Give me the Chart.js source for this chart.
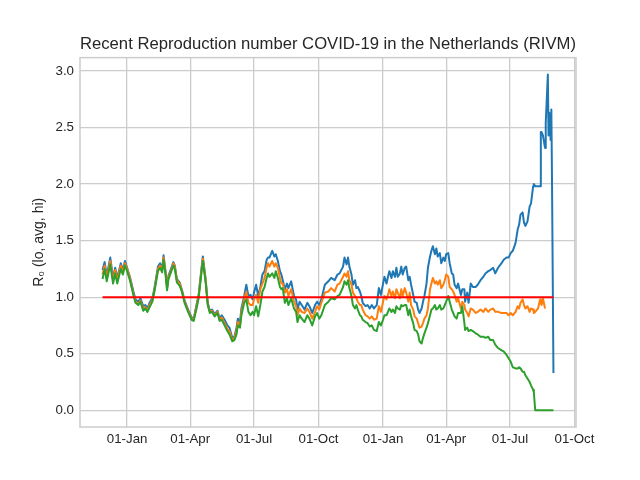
<!DOCTYPE html>
<html>
<head>
<meta charset="utf-8">
<script src="https://cdn.jsdelivr.net/npm/chart.js@4.4.1/dist/chart.umd.min.js"></script>
<style>
  html, body { margin: 0; padding: 0; background: #fff; }
</style>
</head>
<body>
<canvas id="chart" width="640" height="480"></canvas>
<script>
// days since the first estimate (27 Nov 2020)
const startDate = "2020-11-27";
const dayOffsets = [
  0, 3, 6, 11, 15, 18, 21, 26, 29, 32, 35, 39, 44, 47, 51, 54, 58, 61, 64, 67,
  71, 74, 79, 82, 85, 87, 90, 92, 94, 97, 101, 103, 106, 110, 113, 117, 122, 127, 130, 134,
  137, 140, 143, 147, 150, 153, 156, 160, 164, 167,
  170, 174, 178, 181, 185, 188, 191, 193, 196, 198, 202, 205, 208, 211, 214, 216, 219, 222, 225, 228,
  231, 234, 236, 238, 242, 245, 247, 250, 253, 255, 257, 260, 263, 265, 269, 273, 276, 278, 281, 284,
  288, 292, 295, 299, 303, 306, 309, 312, 317, 322, 326, 331, 335, 338,
  343, 345, 348, 350, 352, 355, 357, 360, 362, 364, 367, 369, 371, 375, 378, 381, 384, 387, 391, 394,
  397, 400, 402, 405, 407, 409, 412, 414, 417, 419, 421, 424, 426, 428, 431, 433, 436, 438, 440, 443,
  445, 448, 450, 452, 455, 457, 459, 462, 464, 467, 469, 471, 474, 476, 478, 481, 483, 486, 488, 490,
  493, 495, 498, 500, 502, 505,
  507, 511, 513, 516, 517, 520, 522, 525, 528, 532, 535, 539, 543, 546, 550, 553, 557, 560, 564, 569,
  572, 576, 579, 582, 585, 589, 592, 594, 596, 599, 601, 603, 606, 609, 611, 614, 615, 617, 621, 624,
  625, 626, 628, 631, 632, 635, 636, 637, 639, 640, 641, 643
];

const rHi = [
  1.24, 1.31, 1.19, 1.35, 1.17, 1.26, 1.17, 1.30, 1.24, 1.32, 1.26, 1.18, 1.05, 0.98, 0.96, 0.99, 0.92, 0.93, 0.90, 0.95,
  0.99, 1.08, 1.27, 1.30, 1.25, 1.37, 1.22, 1.09, 1.19, 1.24, 1.31, 1.28, 1.16, 1.13, 1.07, 0.97, 0.89, 0.82, 0.81, 0.93,
  1.02, 1.19, 1.36, 1.16, 0.95, 0.88, 0.89, 0.85, 0.88, 0.81,
  0.84, 0.80, 0.75, 0.73, 0.64, 0.65, 0.73, 0.81, 0.78, 0.90, 1.01, 1.11, 1.01, 1.02, 0.98, 1.04, 1.11, 1.01, 1.09, 1.20,
  1.23, 1.33, 1.35, 1.35, 1.41, 1.36, 1.38, 1.32, 1.23, 1.20, 1.15, 1.07, 1.12, 1.08, 1.14, 1.01, 0.98, 0.89, 0.96, 0.93,
  0.89, 0.95, 0.92, 0.86, 0.93, 0.96, 0.93, 0.98, 1.11, 1.14, 1.17, 1.15, 1.20, 1.21,
  1.27, 1.35, 1.29, 1.35, 1.27, 1.20, 1.11, 1.15, 1.08, 1.09, 1.05, 1.01, 0.95, 0.92, 0.93, 0.90, 0.93, 0.90, 0.93, 1.08,
  1.02, 1.12, 1.18, 1.12, 1.18, 1.23, 1.17, 1.23, 1.18, 1.26, 1.18, 1.21, 1.27, 1.20, 1.26, 1.27, 1.15, 1.18, 1.11, 1.02,
  0.96, 0.95, 0.89, 0.86, 0.90, 0.96, 1.01, 1.12, 1.26, 1.36, 1.41, 1.45, 1.38, 1.43, 1.36, 1.39, 1.30, 1.35, 1.32, 1.38,
  1.39, 1.30, 1.21, 1.20, 1.11, 1.08,
  1.12, 1.02, 1.07, 1.07, 0.96, 1.04, 0.95, 1.12, 1.09, 1.09, 1.11, 1.15, 1.18, 1.21, 1.23, 1.24, 1.26, 1.21, 1.26, 1.30,
  1.33, 1.35, 1.35, 1.39, 1.41, 1.48, 1.60, 1.64, 1.73, 1.75, 1.66, 1.63, 1.67, 1.80, 1.83, 1.98, 2.00, 1.98, 1.98, 1.98,
  2.46, 2.46, 2.43, 2.32, 2.54, 2.97, 2.43, 2.63, 2.39, 2.66, 1.98, 0.33
];

const rAvg = [
  1.20, 1.28, 1.17, 1.32, 1.15, 1.24, 1.15, 1.28, 1.22, 1.30, 1.25, 1.17, 1.03, 0.96, 0.94, 0.97, 0.90, 0.91, 0.88, 0.93,
  0.97, 1.06, 1.25, 1.28, 1.24, 1.35, 1.21, 1.08, 1.18, 1.22, 1.30, 1.27, 1.15, 1.12, 1.06, 0.96, 0.88, 0.81, 0.80, 0.92,
  1.01, 1.18, 1.34, 1.15, 0.94, 0.87, 0.88, 0.84, 0.87, 0.80,
  0.82, 0.77, 0.72, 0.70, 0.62, 0.64, 0.70, 0.78, 0.75, 0.87, 0.98, 1.05, 0.95, 0.93, 0.93, 0.98, 1.02, 0.95, 1.07, 1.12,
  1.17, 1.26, 1.30, 1.27, 1.32, 1.27, 1.30, 1.26, 1.17, 1.12, 1.12, 1.04, 1.07, 1.01, 1.07, 0.96, 0.92, 0.84, 0.90, 0.87,
  0.86, 0.90, 0.87, 0.81, 0.87, 0.92, 0.89, 0.95, 1.04, 1.05, 1.08, 1.05, 1.11, 1.12,
  1.18, 1.21, 1.18, 1.23, 1.15, 1.11, 1.04, 1.01, 0.99, 0.96, 0.93, 0.93, 0.89, 0.84, 0.83, 0.81, 0.83, 0.80, 0.81, 0.92,
  0.87, 0.96, 1.01, 0.98, 1.02, 1.07, 1.01, 1.05, 0.99, 1.07, 1.04, 0.99, 1.07, 1.01, 1.08, 1.04, 0.96, 1.04, 0.93, 0.89,
  0.83, 0.81, 0.77, 0.73, 0.74, 0.77, 0.81, 0.84, 0.90, 1.07, 1.12, 1.17, 1.12, 1.14, 1.11, 1.15, 1.08, 1.11, 1.15, 1.20,
  1.18, 1.09, 1.07, 1.05, 1.02, 0.96,
  0.99, 0.90, 0.96, 0.93, 0.89, 0.86, 0.83, 0.90, 0.89, 0.86, 0.87, 0.89, 0.87, 0.90, 0.87, 0.89, 0.90, 0.87, 0.87, 0.86,
  0.86, 0.86, 0.84, 0.86, 0.84, 0.87, 0.92, 0.90, 0.95, 0.98, 0.93, 0.90, 0.92, 0.87, 0.90, 0.89, 0.86, 0.87, 0.90, 0.98,
  0.95, 0.93, 0.99, 0.90, null, null, null, null, null, null, null, null
];

const rLo = [
  1.16, 1.25, 1.14, 1.29, 1.12, 1.21, 1.12, 1.25, 1.20, 1.28, 1.23, 1.15, 1.02, 0.95, 0.93, 0.96, 0.88, 0.90, 0.87, 0.91,
  0.96, 1.05, 1.23, 1.26, 1.22, 1.33, 1.19, 1.06, 1.16, 1.21, 1.28, 1.25, 1.13, 1.10, 1.05, 0.95, 0.87, 0.80, 0.79, 0.90,
  0.99, 1.16, 1.32, 1.13, 0.93, 0.86, 0.87, 0.83, 0.86, 0.79,
  0.80, 0.75, 0.70, 0.67, 0.61, 0.62, 0.67, 0.75, 0.73, 0.84, 0.95, 0.98, 0.87, 0.84, 0.87, 0.84, 0.92, 0.83, 0.93, 1.05,
  1.09, 1.17, 1.21, 1.18, 1.21, 1.17, 1.23, 1.17, 1.09, 1.07, 1.08, 0.95, 0.99, 0.93, 0.99, 0.90, 0.87, 0.78, 0.84, 0.81,
  0.78, 0.84, 0.81, 0.75, 0.83, 0.86, 0.81, 0.84, 0.93, 0.96, 0.99, 0.98, 1.01, 1.02,
  1.09, 1.14, 1.11, 1.15, 1.08, 1.01, 0.93, 0.90, 0.93, 0.89, 0.84, 0.83, 0.80, 0.78, 0.77, 0.74, 0.75, 0.71, 0.70, 0.78,
  0.75, 0.80, 0.84, 0.84, 0.87, 0.90, 0.87, 0.89, 0.86, 0.92, 0.90, 0.89, 0.93, 0.92, 0.93, 0.93, 0.84, 0.89, 0.83, 0.77,
  0.71, 0.70, 0.67, 0.61, 0.59, 0.64, 0.68, 0.73, 0.77, 0.84, 0.89, 0.90, 0.93, 0.89, 0.90, 0.93, 0.89, 0.90, 0.93, 0.96,
  1.01, 0.96, 0.89, 0.86, 0.83, 0.81,
  0.86, 0.86, 0.92, 0.77, 0.71, 0.73, 0.70, 0.71, 0.70, 0.68, 0.67, 0.65, 0.65, 0.64, 0.65, 0.62, 0.62, 0.58, 0.55, 0.53,
  0.52, 0.49, 0.46, 0.43, 0.38, 0.37, 0.37, 0.38, 0.37, 0.34, 0.34, 0.31, 0.28, 0.25, 0.22, 0.18, 0.16, 0.00, 0.00, 0.00,
  0.00, 0.00, 0.00, 0.00, 0.00, 0.00, 0.00, 0.00, 0.00, 0.00, 0.00, 0.00
];

const threshold = 1.0;
const tickDates = ["2021-01-01", "2021-04-01", "2021-07-01", "2021-10-01",
                   "2022-01-01", "2022-04-01", "2022-07-01", "2022-10-01"];
const yTicks = [0, 0.5, 1.0, 1.5, 2.0, 2.5, 3.0];
const monthNames = ["Jan", "Feb", "Mar", "Apr", "May", "Jun", "Jul", "Aug", "Sep", "Oct", "Nov", "Dec"];

const DAY = 24 * 60 * 60 * 1000;
const t0 = Date.parse(startDate);
const toPoints = (vals) => dayOffsets.map((d, i) => ({ x: t0 + d * DAY, y: vals[i] }));

// matplotlib style 5% margins around the data
const xFirst = t0 + dayOffsets[0] * DAY;
const xLast = t0 + dayOffsets[dayOffsets.length - 1] * DAY;
const xPad = (xLast - xFirst) * 0.05;
const allVals = rHi.concat(rAvg, rLo).filter((v) => v !== null);
const yMin = Math.min(...allVals);
const yMax = Math.max(...allVals);
const yPad = (yMax - yMin) * 0.05;

const gridColor = "#cccccc";
const textColor = "#262626";
const fontFamily = "'Liberation Sans', Arial, sans-serif";

const frame = {
  id: "frame",
  beforeDatasetsDraw(chart) {
    const { ctx, chartArea: a } = chart;
    ctx.save();
    ctx.strokeStyle = gridColor;
    ctx.lineWidth = 1.5;
    ctx.strokeRect(a.left, a.top, a.right - a.left, a.bottom - a.top);
    ctx.restore();
  },
};

const lineStyle = {
  borderWidth: 2,
  pointRadius: 0,
  tension: 0,
  fill: false,
  spanGaps: false,
  borderJoinStyle: "round",
};

new Chart(document.getElementById("chart"), {
  type: "line",
  data: {
    datasets: [
      {
        ...lineStyle,
        label: "R = 1",
        data: [{ x: xFirst, y: threshold }, { x: xLast, y: threshold }],
        borderColor: "#ff0000",
      },
      { ...lineStyle, label: "lo", data: toPoints(rLo), borderColor: "#2ca02c" },
      { ...lineStyle, label: "avg", data: toPoints(rAvg), borderColor: "#ff7f0e" },
      { ...lineStyle, label: "hi", data: toPoints(rHi), borderColor: "#1f77b4" },
    ],
  },
  options: {
    responsive: false,
    animation: false,
    layout: { padding: { left: 0, right: 64, top: 0, bottom: 0 } },
    plugins: {
      legend: { display: false },
      tooltip: { enabled: false },
      title: {
        display: true,
        fullSize: false, // centre over the plot area, like matplotlib
        text: "Recent Reproduction number COVID-19 in the Netherlands (RIVM)",
        color: textColor,
        font: { family: fontFamily, size: 16.7, weight: "normal" },
        padding: { top: 34, bottom: 3.6 },
      },
    },
    scales: {
      x: {
        type: "linear",
        min: xFirst - xPad,
        max: xLast + xPad,
        afterFit: (scale) => { scale.height = 53; },
        afterBuildTicks: (scale) => {
          scale.ticks = tickDates.map((d) => ({ value: Date.parse(d) }));
        },
        ticks: {
          color: textColor,
          font: { family: fontFamily, size: 13.3 },
          padding: 4,
          maxRotation: 0,
          autoSkip: false,
          callback: (v) => {
            const d = new Date(v);
            return String(d.getUTCDate()).padStart(2, "0") + "-" + monthNames[d.getUTCMonth()];
          },
        },
        grid: { color: gridColor, lineWidth: 1.3, drawTicks: false },
        border: { display: false },
      },
      y: {
        min: yMin - yPad,
        max: yMax + yPad,
        afterFit: (scale) => { scale.width = 80; },
        afterBuildTicks: (scale) => {
          scale.ticks = yTicks.map((v) => ({ value: v }));
        },
        ticks: {
          color: textColor,
          font: { family: fontFamily, size: 13.3 },
          padding: 6,
          callback: (v) => v.toFixed(1),
        },
        grid: { color: gridColor, lineWidth: 1.3, drawTicks: false },
        border: { display: false },
        title: {
          display: true,
          text: "R\u2080 (lo, avg, hi)",
          color: textColor,
          font: { family: fontFamily, size: 14 },
          padding: { top: 31, bottom: 0 },
        },
      },
    },
  },
  plugins: [frame],
});
</script>
</body>
</html>
